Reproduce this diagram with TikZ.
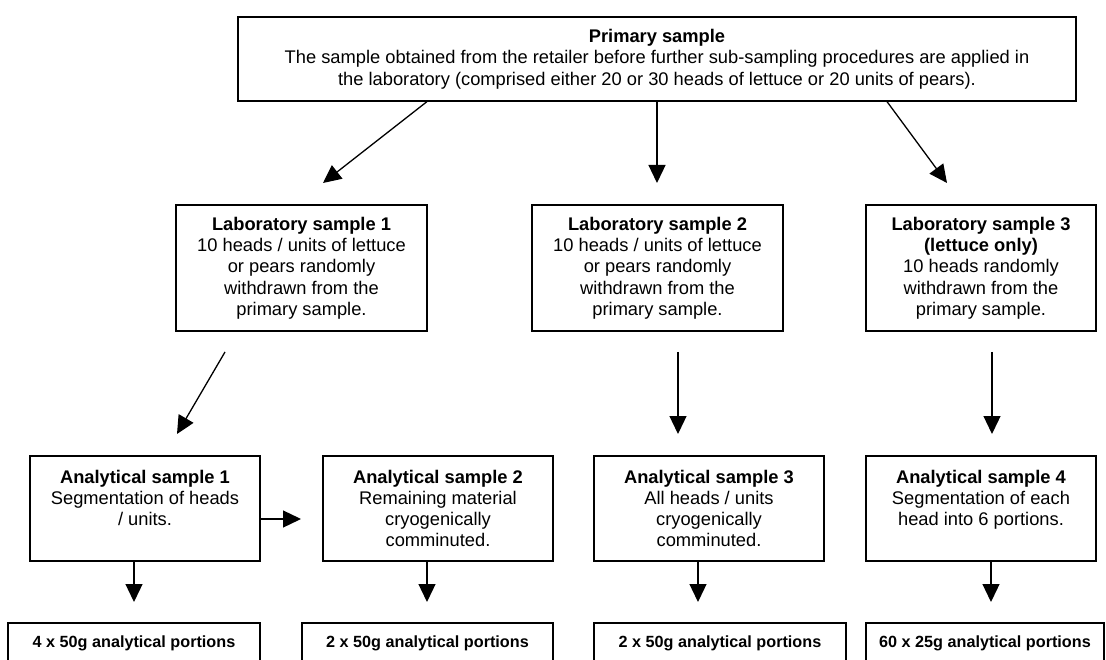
\documentclass[tikz,border=0pt]{standalone}
\usepackage{fontspec}
\setmainfont{Liberation Sans}
\usetikzlibrary{arrows.meta,calc}
\begin{document}
\begin{tikzpicture}[x=1pt,y=-1pt,
  box/.style={draw, line width=1.2pt, rectangle, inner sep=0pt, align=center,
    font=\fontsize{18.3}{21.3}\selectfont},
  wide/.style={minimum width=251pt},
  narrow/.style={minimum width=230pt},
  labbox/.style={box, minimum height=126pt},
  anabox/.style={box, narrow, minimum height=105pt},
  portbox/.style={box, minimum height=40pt, font=\fontsize{16.2}{19}\selectfont\bfseries},
  arr/.style={line width=1.3pt, -{Triangle[length=18pt,width=17pt]}}]
\useasboundingbox (0,0) rectangle (1106,660);
\clip (0,0) rectangle (1106,660);
\fill[white] (0,0) rectangle (1106,660);

% primary
\node[box, minimum width=838pt, minimum height=84pt] (prim) at (657,59)
  {\textbf{Primary sample}\\
   The sample obtained from the retailer before further sub-sampling procedures are applied in\\
   the laboratory (comprised either 20 or 30 heads of lettuce or 20 units of pears).};

% laboratory samples
\node[labbox, wide] (lab1) at (301.5,268)
  {\textbf{Laboratory sample 1}\\10 heads / units of lettuce\\or pears randomly\\withdrawn from the\\primary sample.};
\node[labbox, wide] (lab2) at (657.5,268)
  {\textbf{Laboratory sample 2}\\10 heads / units of lettuce\\or pears randomly\\withdrawn from the\\primary sample.};
\node[labbox, narrow] (lab3) at (981,268)
  {\textbf{Laboratory sample 3}\\\textbf{(lettuce only)}\\10 heads randomly\\withdrawn from the\\primary sample.};

% analytical samples
\node[anabox] (ana1) at (145,508.5)
  {\textbf{Analytical sample 1}\\Segmentation of heads\\/ units.\\\mbox{}};
\node[anabox] (ana2) at (438,508.5)
  {\textbf{Analytical sample 2}\\Remaining material\\cryogenically\\comminuted.};
\node[anabox] (ana3) at (709,508.5)
  {\textbf{Analytical sample 3}\\All heads / units\\cryogenically\\comminuted.};
\node[anabox] (ana4) at (981,508.5)
  {\textbf{Analytical sample 4}\\Segmentation of each\\head into 6 portions.\\\mbox{}};

% portions
\node[portbox, minimum width=252pt] (por1) at (134,643) {4 x 50g analytical portions};
\node[portbox, minimum width=251pt] (por2) at (427.5,643) {2 x 50g analytical portions};
\node[portbox, minimum width=252pt] (por3) at (720,643) {2 x 50g analytical portions};
\node[portbox, minimum width=238pt] (por4) at (985,643) {60 x 25g analytical portions};

% free arrow ends
\coordinate (t1) at (323,183);
\coordinate (t2) at (657,183);
\coordinate (t3) at (947,183);
\coordinate (s4) at (225,352);
\coordinate (t4) at (177,434);
\coordinate (s5) at (678,352);
\coordinate (t5) at (678,434);
\coordinate (s6) at (992,352);
\coordinate (t6) at (992,434);
\coordinate (t7) at (301,519);
\coordinate (t8) at (134,602);
\coordinate (t9) at (427,602);
\coordinate (t10) at (698,602);
\coordinate (t11) at (991,602);

\draw[arr] ([xshift=-230pt]prim.south) -- (t1);
\draw[arr] (prim.south) -- (t2);
\draw[arr] ([xshift=230pt]prim.south) -- (t3);
\draw[arr] (s4) -- (t4);
\draw[arr] (s5) -- (t5);
\draw[arr] (s6) -- (t6);
\draw[arr] (ana1.east |- t7) -- (t7);
\draw[arr] (ana1.south -| t8) -- (t8);
\draw[arr] (ana2.south -| t9) -- (t9);
\draw[arr] (ana3.south -| t10) -- (t10);
\draw[arr] (ana4.south -| t11) -- (t11);
\end{tikzpicture}
\end{document}
